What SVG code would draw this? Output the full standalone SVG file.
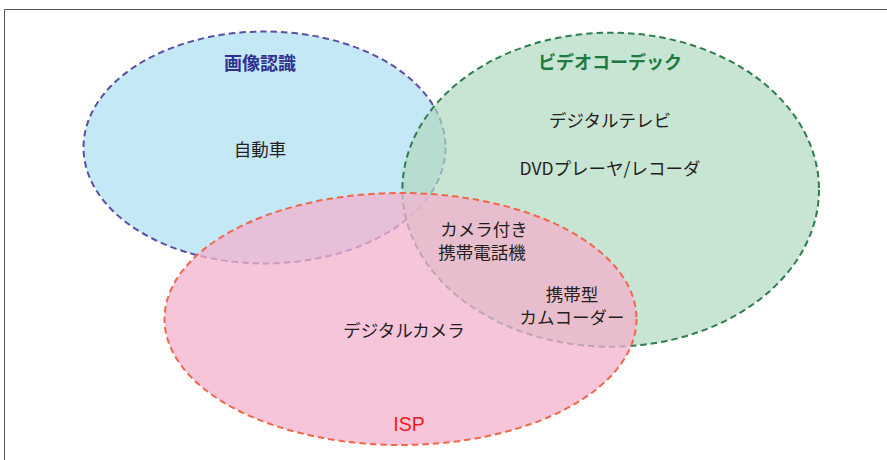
<svg xmlns="http://www.w3.org/2000/svg" width="887" height="460" viewBox="0 0 887 460">
<style>
.set{stroke-width:2;stroke-dasharray:6.5 4}
.t{font-family:"Noto Sans CJK JP","Liberation Sans",sans-serif;font-size:17.5px;fill:#231f20;text-anchor:middle}
.h{font-weight:bold;font-size:18px}
</style>
<rect width="887" height="460" fill="#ffffff"/>
<path d="M4.5 460 V9.5 H887" fill="none" stroke="#555555" stroke-width="1"/>
<g id="set-image-recognition">
<ellipse class="set" cx="264.5" cy="147.5" rx="181" ry="116" fill="#c5e8f7" stroke="#5b4fa3"/>
</g>
<g id="set-video-codec">
<ellipse class="set" cx="610.7" cy="189.7" rx="208.3" ry="157" fill="#b0d8bf" fill-opacity="0.7" stroke="#2e7d4f"/>
</g>
<g id="set-isp">
<ellipse class="set" cx="400.5" cy="319" rx="236" ry="126" fill="#f3b2ce" fill-opacity="0.75" stroke="#f0674a"/>
</g>
<g id="label-image-recognition"><text class="t h" x="260" y="70" style="fill:#2e3192">画像認識</text></g>
<g id="label-video-codec"><text class="t h" x="610" y="69" style="fill:#1b7b3f">ビデオコーデック</text></g>
<g id="label-isp"><text class="t" x="409" y="431" style="fill:#ed1c24;font-family:'Liberation Sans',sans-serif;font-size:19.5px">ISP</text></g>
<g id="item-car"><text class="t" x="260" y="156">自動車</text></g>
<g id="item-digital-tv"><text class="t" x="610" y="127">デジタルテレビ</text></g>
<g id="item-dvd"><text class="t" x="610" y="175">DVDプレーヤ/レコーダ</text></g>
<g id="item-camera-phone"><text class="t" x="484" y="236">カメラ付き</text><text class="t" x="482" y="259">携帯電話機</text></g>
<g id="item-camcorder"><text class="t" x="572" y="301">携帯型</text><text class="t" x="572" y="324">カムコーダー</text></g>
<g id="item-digital-camera"><text class="t" x="404" y="337">デジタルカメラ</text></g>
</svg>
